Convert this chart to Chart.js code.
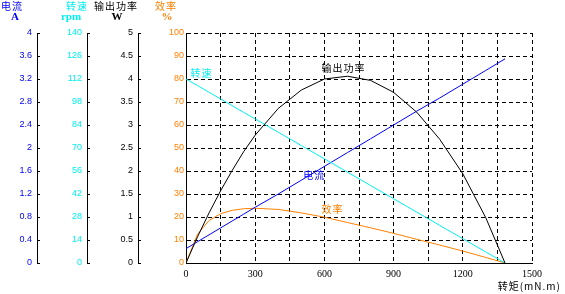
<!DOCTYPE html>
<html>
<head>
<meta charset="utf-8">
<script src="https://cdn.jsdelivr.net/npm/chart.js@4"></script>
<style>
  html, body { margin: 0; padding: 0; background: #fff; }
  #wrap { width: 565px; height: 294px; }
</style>
</head>
<body>
<div id="wrap"><canvas id="myChart"></canvas></div>
<script>
// torque (mN.m) read along the x axis
const torque = [0, 50, 100, 150, 200, 250, 300, 400, 500, 600, 700, 800, 900, 1000, 1100, 1200, 1300, 1383];
// current (A)
const current = [0.25, 0.37, 0.49, 0.61, 0.73, 0.85, 0.97, 1.20, 1.44, 1.68, 1.92, 2.16, 2.40, 2.64, 2.87, 3.11, 3.35, 3.55];
// speed (rpm)
const speed = [112, 108, 103.9, 99.9, 95.8, 91.7, 87.7, 79.6, 71.5, 63.4, 55.3, 47.2, 39.1, 31.0, 22.9, 14.8, 6.7, 0];
// output power (W)
const power = [0, 0.57, 1.09, 1.57, 2.01, 2.42, 2.78, 3.36, 3.76, 4.00, 4.06, 3.97, 3.71, 3.28, 2.69, 1.94, 0.98, 0];
// efficiency (%)
const efficiency = [0, 12.5, 18.5, 21.4, 22.9, 23.6, 23.8, 23.3, 21.8, 19.9, 17.6, 15.3, 12.9, 10.3, 7.8, 5.2, 2.4, 0];

const currentTicks = [0, 0.4, 0.8, 1.2, 1.6, 2, 2.4, 2.8, 3.2, 3.6, 4];
const speedTicks = [0, 14, 28, 42, 56, 70, 84, 98, 112, 126, 140];
const powerTicks = [0, 0.5, 1, 1.5, 2, 2.5, 3, 3.5, 4, 4.5, 5];
const effTicks = [0, 10, 20, 30, 40, 50, 60, 70, 80, 90, 100];
const torqueTicks = [0, 150, 300, 450, 600, 750, 900, 1050, 1200, 1350, 1500];
const torqueLabels = ['0', '', '300', '', '600', '', '900', '', '1200', '', '1500'];

const BLUE = '#0000ff';
const CYAN = '#00f0f0';
const ORANGE = '#ff8000';

const pts = (ys) => torque.map((t, i) => ({ x: t, y: ys[i] }));
const setTicks = (arr) => (scale) => { scale.ticks = arr.map(v => ({ value: v })); };
const tickFont = { family: '"Liberation Sans", Arial, sans-serif', size: 9 };
const plain = (v) => String(+v.toFixed(2));

function sideAxis(min, max, ticks, color, weight, width) {
  return {
    type: 'linear', position: 'left', min: min, max: max, weight: weight,
    afterBuildTicks: setTicks(ticks),
    afterFit: (s) => { s.width = width; },
    grid: { drawOnChartArea: false, drawTicks: true, tickLength: -3, color: '#000' },
    border: { display: true, color: '#000', width: 1 },
    ticks: { color: color, font: tickFont, padding: 8, callback: plain },
  };
}

// titles above the side axes, and names written next to the curves
const axisTitles = [
  { axis: 'yI', name: '电流', unit: 'A', color: BLUE, dxName: 25, dxUnit: 22 },
  { axis: 'yN', name: '转速', unit: 'rpm', color: CYAN, dxName: 10, dxUnit: 16 },
  { axis: 'yP', name: '输出功率', unit: 'W', color: '#000', dxName: 22, dxUnit: 21 },
  { axis: 'yE', name: '效率', unit: '%', color: ORANGE, dxName: 20, dxUnit: 19 },
];
const curveNotes = [
  { text: '转速', x: 20, y: 82.7, color: CYAN, align: 'left' },
  { text: '输出功率', x: 683, y: 84.8, color: '#000', align: 'center' },
  { text: '电流', x: 556, y: 38, color: BLUE, align: 'center' },
  { text: '效率', x: 635, y: 23.6, color: ORANGE, align: 'center' },
];

const textPlugin = {
  id: 'texts',
  afterDraw(chart) {
    const ctx = chart.ctx;
    const s = chart.scales;
    ctx.save();
    ctx.textBaseline = 'middle';
    ctx.textAlign = 'center';
    axisTitles.forEach(t => {
      const sc = s[t.axis];
      ctx.fillStyle = t.color;
      ctx.font = '10px "Noto Sans CJK SC"';
      ctx.letterSpacing = '1px';
      ctx.fillText(t.name, sc.right - t.dxName, 6);
      ctx.font = 'bold 11px "Liberation Serif", serif';
      ctx.letterSpacing = '0px';
      ctx.fillText(t.unit, sc.right - t.dxUnit, 17);
    });
    ctx.font = '10px "Noto Sans CJK SC"';
    ctx.letterSpacing = '1px';
    curveNotes.forEach(n => {
      ctx.fillStyle = n.color;
      ctx.textAlign = n.align;
      ctx.fillText(n.text, s.x.getPixelForValue(n.x), s.yE.getPixelForValue(n.y));
    });
    ctx.fillStyle = '#000';
    ctx.textAlign = 'right';
    ctx.fillText('转矩(mN.m)', s.x.right + 29, 286);
    ctx.restore();
  }
};

const line = (label, ys, color, axis) => ({
  label: label, data: pts(ys), yAxisID: axis,
  borderColor: color, backgroundColor: color, borderWidth: 1,
  pointRadius: 0, tension: 0, fill: false,
});

const config = {
  type: 'line',
  data: {
    datasets: [
      line('输出功率', power, '#000', 'yP'),
      line('转速', speed, CYAN, 'yN'),
      line('电流', current, BLUE, 'yI'),
      line('效率', efficiency, ORANGE, 'yE'),
    ]
  },
  options: {
    responsive: false,
    animation: false,
    layout: { padding: { top: 33, right: 33, left: 0, bottom: 0 } },
    plugins: { legend: { display: false }, tooltip: { enabled: false }, title: { display: false } },
    scales: {
      x: {
        type: 'linear', position: 'bottom', min: 0, max: 1500,
        afterBuildTicks: setTicks(torqueTicks),
        afterFit: (s) => { s.height = 31; },
        grid: { color: '#000', drawTicks: false },
        border: { display: true, color: '#000', width: 1, dash: [4, 3] },
        ticks: {
          color: '#000', padding: 5, maxRotation: 0, autoSkip: false,
          font: { family: '"Liberation Serif", serif', size: 10 },
          callback: (v, i) => torqueLabels[i],
        },
      },
      yI: sideAxis(0, 4, currentTicks, BLUE, 4, 37),
      yN: sideAxis(0, 140, speedTicks, CYAN, 3, 50),
      yP: sideAxis(0, 5, powerTicks, '#000', 2, 51),
      yE: {
        type: 'linear', position: 'left', min: 0, max: 100, weight: 1,
        afterBuildTicks: setTicks(effTicks),
        afterFit: (s) => { s.width = 48; },
        grid: { drawOnChartArea: true, drawTicks: true, tickLength: -3, color: '#000' },
        border: { display: true, color: '#000', width: 1, dash: [4, 3] },
        ticks: { color: ORANGE, font: tickFont, padding: 5, callback: plain },
      },
    },
  },
  plugins: [textPlugin],
};

const canvas = document.getElementById('myChart');
canvas.width = 565;
canvas.height = 294;
const myChart = new Chart(canvas, config);
</script>
</body>
</html>
